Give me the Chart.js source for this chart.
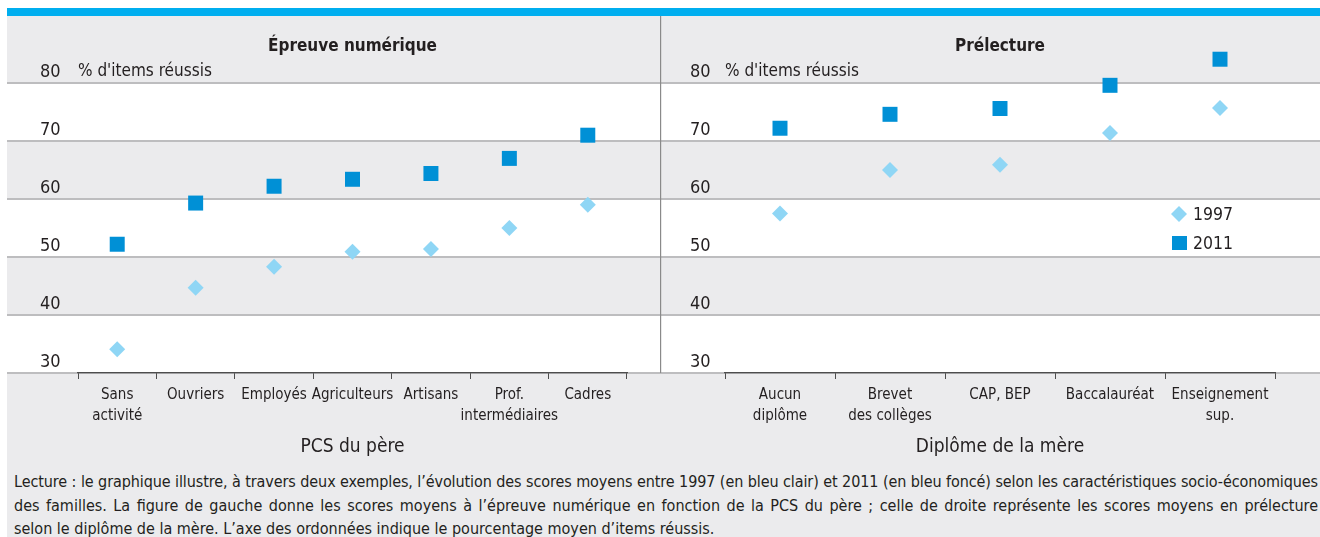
<!DOCTYPE html>
<html><head><meta charset="utf-8">
<script src="https://cdn.jsdelivr.net/npm/chart.js@4.4.0/dist/chart.umd.min.js"></script>
<style>
html,body{margin:0;padding:0;background:#fff;}
body{width:1320px;height:537px;position:relative;overflow:hidden;font-family:'DejaVu Sans Condensed','DejaVu Sans',sans-serif;color:#231f20;}
#bar{position:absolute;left:7px;top:8px;width:1313px;height:8px;background:#00aeef;}
#bg{position:absolute;left:7px;top:16px;width:1313px;height:521px;background:#ebebed;}
#c1{position:absolute;left:7px;top:16px;width:653px;height:444px;}
#c2{position:absolute;left:660px;top:16px;width:660px;height:444px;}
#note{position:absolute;left:14px;top:470px;width:1304px;font-size:16px;line-height:23.5px;}
.jl{text-align:justify;text-align-last:justify;}
.ll{text-align:left;}
</style>
</head><body>
<div id="bar"></div>
<div id="bg"></div>
<canvas id="c1" width="653" height="444"></canvas>
<canvas id="c2" width="660" height="444"></canvas>
<div id="note">
<div class="jl"><span>Lecture : le graphique illustre, à travers deux exemples, l’évolution des scores moyens entre 1997 (en bleu clair) et 2011 (en bleu foncé) selon les caractéristiques socio-économiques</span></div>
<div class="jl"><span>des familles. La figure de gauche donne les scores moyens à l’épreuve numérique en fonction de la PCS du père ; celle de droite représente les scores moyens en prélecture</span></div>
<div class="ll"><span>selon le diplôme de la mère. L’axe des ordonnées indique le pourcentage moyen d’items réussis.</span></div>
</div>
<script>
// ---- data ----
const numCategories = [['Sans', 'activité'], 'Ouvriers', 'Employés', 'Agriculteurs', 'Artisans', ['Prof.', 'intermédiaires'], 'Cadres'];
const num1997 = [34.1, 44.7, 48.3, 50.9, 51.4, 55.0, 59.0];
const num2011 = [52.2, 59.3, 62.2, 63.4, 64.4, 67.0, 71.0];
const preCategories = [['Aucun', 'diplôme'], ['Brevet', 'des collèges'], 'CAP, BEP', 'Baccalauréat', ['Enseignement', 'sup.']];
const pre1997 = [57.5, 65.0, 65.9, 71.4, 75.7];
const pre2011 = [72.2, 74.6, 75.6, 79.6, 84.1];
const yTicks = [30, 40, 50, 60, 70, 80];
const seriesLabels = ['1997', '2011'];
const yAxisTitle = "% d'items réussis";

// ---- fit footnote lines ----
(function(){
  const target = 1304;
  document.querySelectorAll('#note .jl span').forEach(sp => {
    sp.style.whiteSpace = 'nowrap';
    const w = sp.getBoundingClientRect().width;
    if (w > target) {
      sp.style.letterSpacing = ((target - w - 2) / sp.textContent.length) + 'px';
    }
    sp.style.whiteSpace = 'normal';
  });
})();

const FONT = "'DejaVu Sans Condensed','DejaVu Sans',sans-serif";
const TXT = '#231f20';
const LIGHT = '#8fd6f5';
const DARK = '#0090d6';
const Y_MAX = 86;
Chart.defaults.font.family = FONT;
Chart.defaults.color = TXT;

const bandsPlugin = {
  id: 'bands',
  beforeDraw(chart, args, opts) {
    const {ctx, width} = chart;
    const y = chart.scales.y;
    ctx.save();
    for (let i = 0; i < yTicks.length - 1; i += 2) {
      const top = y.getPixelForValue(yTicks[i + 1]);
      const bot = y.getPixelForValue(yTicks[i]);
      ctx.fillStyle = '#ffffff';
      ctx.fillRect(0, top, width, bot - top);
    }
    ctx.strokeStyle = '#bdbdbf';
    ctx.lineWidth = 2;
    yTicks.forEach(v => {
      const p = y.getPixelForValue(v);
      ctx.beginPath(); ctx.moveTo(0, p); ctx.lineTo(width, p); ctx.stroke();
    });
    if (opts.divider) {
      ctx.strokeStyle = '#8a8a8a';
      ctx.lineWidth = 1.2;
      ctx.beginPath(); ctx.moveTo(0.6, 0); ctx.lineTo(0.6, y.getPixelForValue(yTicks[0])); ctx.stroke();
    }
    ctx.restore();
  },
  afterDraw(chart, args, opts) {
    const {ctx, chartArea} = chart;
    const y = chart.scales.y;
    const top80 = y.getPixelForValue(yTicks[yTicks.length - 1]);
    ctx.save();
    ctx.fillStyle = TXT;
    ctx.font = '17px ' + FONT;
    ctx.textBaseline = 'middle';
    ctx.textAlign = 'left';
    ctx.fillText(yAxisTitle, chartArea.left, top80 - 11);
    if (opts.legend) {
      const ds = chart.data.datasets;
      const xm = chartArea.right - 96;
      const rows = [top80 + 131, top80 + 160];
      ds.forEach((d, i) => {
        const cy = rows[i];
        ctx.fillStyle = d.pointBackgroundColor;
        ctx.beginPath();
        if (d.pointStyle === 'rectRot') {
          ctx.moveTo(xm - 8, cy); ctx.lineTo(xm, cy - 8); ctx.lineTo(xm + 8, cy); ctx.lineTo(xm, cy + 8); ctx.closePath();
        } else {
          ctx.rect(xm - 7, cy - 7, 15, 14);
        }
        ctx.fill();
        ctx.fillStyle = TXT;
        ctx.font = '17.5px ' + FONT;
        ctx.fillText(d.label, chartArea.right - 82, cy + 1);
      });
    }
    ctx.restore();
  }
};

function makeChart(id, cats, d97, d11, title, xTitle, pad, yWidth, legend, divider) {
  return new Chart(document.getElementById(id), {
    type: 'line',
    data: {
      labels: cats,
      datasets: [
        { label: seriesLabels[0], data: d97, showLine: false, pointStyle: 'rectRot', pointRadius: 8, pointHoverRadius: 8,
          pointBackgroundColor: LIGHT, pointBorderWidth: 0, borderColor: LIGHT, clip: false },
        { label: seriesLabels[1], data: d11, showLine: false, pointStyle: 'rect', pointRadius: 10.6, pointHoverRadius: 10.6,
          pointBackgroundColor: DARK, pointBorderWidth: 0, borderColor: DARK, clip: false }
      ]
    },
    options: {
      responsive: false,
      animation: false,
      events: [],
      layout: { padding: pad },
      plugins: {
        legend: { display: false },
        tooltip: { enabled: false },
        title: { display: true, text: title, fullSize: false, color: TXT,
          font: { size: 17, weight: 'bold', lineHeight: 1.2 }, padding: { top: 20, bottom: -8.2 } },
        bands: { legend: legend, divider: divider }
      },
      scales: {
        x: {
          offset: true,
          grid: { display: true, drawOnChartArea: false, drawTicks: true, tickLength: 6, offset: true, color: '#4d4d4d', lineWidth: 1 },
          border: { display: true, color: '#4d4d4d', width: 1.2 },
          ticks: { font: { size: 15, lineHeight: 1.37 }, color: TXT, padding: 6, maxRotation: 0, autoSkip: false },
          title: { display: true, text: xTitle, font: { size: 19 }, color: TXT, padding: { top: 0, bottom: 2 } },
          afterFit: s => { s.height = 87; }
        },
        y: {
          min: yTicks[0], max: Y_MAX,
          afterBuildTicks: s => { s.ticks = yTicks.map(v => ({ value: v })); },
          grid: { display: false },
          border: { display: false },
          ticks: { font: { size: 18 }, color: TXT, crossAlign: 'far', labelOffset: -10.5 },
          afterFit: s => { s.width = yWidth; }
        }
      }
    },
    plugins: [bandsPlugin]
  });
}

makeChart('c1', numCategories, num1997, num2011, 'Épreuve numérique', 'PCS du père',
  { left: 33, right: 33, top: 0, bottom: 0 }, 38, false, false);
makeChart('c2', preCategories, pre1997, pre2011, 'Prélecture', 'Diplôme de la mère',
  { left: 30, right: 45, top: 0, bottom: 0 }, 35, true, true);
</script>
</body></html>
